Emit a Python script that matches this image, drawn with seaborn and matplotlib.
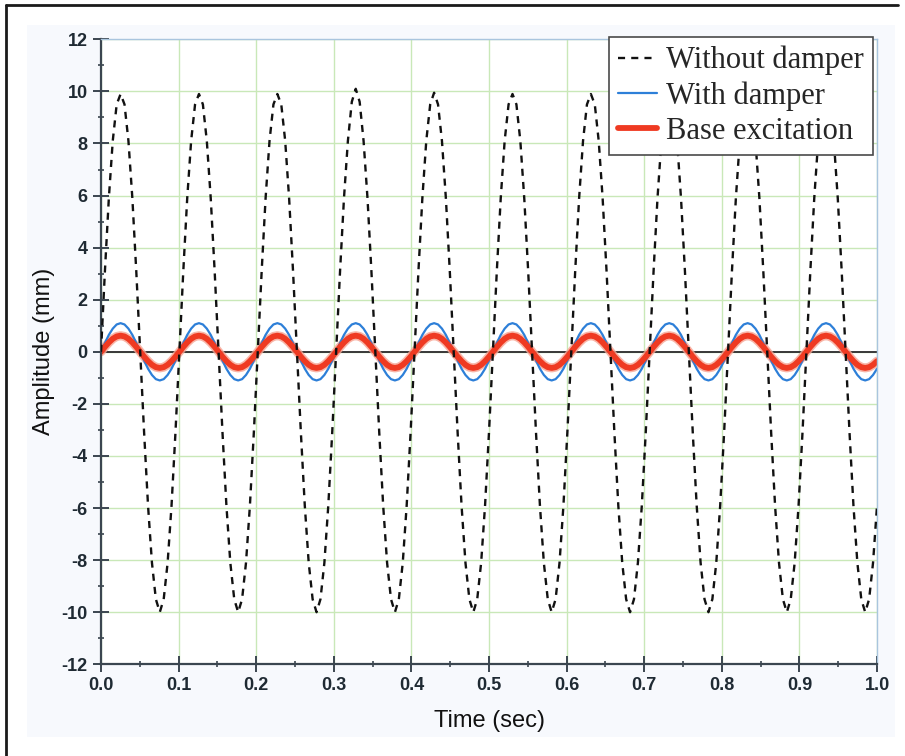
import matplotlib
matplotlib.use("Agg")
import matplotlib.pyplot as plt
from matplotlib.lines import Line2D
from matplotlib.patches import Rectangle
from matplotlib.ticker import MultipleLocator, FormatStrFormatter
import seaborn as sns

# time samples (sec)
time = [
    0.0, 0.00505, 0.0101, 0.01515, 0.0202, 0.02525, 0.0303, 0.03535, 0.0404, 0.04545,
    0.0505, 0.05555, 0.0606, 0.06565, 0.0707, 0.07575, 0.0808, 0.08585, 0.0909, 0.09595,
    0.101, 0.10605, 0.1111, 0.11615, 0.1212, 0.12625, 0.1313, 0.13635, 0.1414, 0.14645,
    0.1515, 0.15655, 0.1616, 0.16665, 0.1717, 0.17675, 0.1818, 0.18685, 0.1919, 0.19695,
    0.202, 0.20705, 0.2121, 0.21715, 0.2222, 0.22725, 0.2323, 0.23735, 0.2424, 0.24745,
    0.2525, 0.25755, 0.2626, 0.26765, 0.2727, 0.27775, 0.2828, 0.28785, 0.2929, 0.29795,
    0.303, 0.30805, 0.3131, 0.31815, 0.3232, 0.32825, 0.3333, 0.33835, 0.3434, 0.34845,
    0.3535, 0.35855, 0.3636, 0.36865, 0.3737, 0.37875, 0.3838, 0.38885, 0.3939, 0.39895,
    0.404, 0.40905, 0.4141, 0.41915, 0.4242, 0.42925, 0.4343, 0.43935, 0.4444, 0.44945,
    0.4545, 0.45955, 0.4646, 0.46965, 0.4747, 0.47975, 0.4848, 0.48985, 0.4949, 0.49995,
    0.505, 0.51005, 0.5151, 0.52015, 0.5252, 0.53025, 0.5353, 0.54035, 0.5454, 0.55045,
    0.5555, 0.56055, 0.5656, 0.57065, 0.5757, 0.58075, 0.5858, 0.59085, 0.5959, 0.60095,
    0.606, 0.61105, 0.6161, 0.62115, 0.6262, 0.63125, 0.6363, 0.64135, 0.6464, 0.65145,
    0.6565, 0.66155, 0.6666, 0.67165, 0.6767, 0.68175, 0.6868, 0.69185, 0.6969, 0.70195,
    0.707, 0.71205, 0.7171, 0.72215, 0.7272, 0.73225, 0.7373, 0.74235, 0.7474, 0.75245,
    0.7575, 0.76255, 0.7676, 0.77265, 0.7777, 0.78275, 0.7878, 0.79285, 0.7979, 0.80295,
    0.808, 0.81305, 0.8181, 0.82315, 0.8282, 0.83325, 0.8383, 0.84335, 0.8484, 0.85345,
    0.8585, 0.86355, 0.8686, 0.87365, 0.8787, 0.88375, 0.8888, 0.89385, 0.8989, 0.90395,
    0.909, 0.91405, 0.9191, 0.92415, 0.9292, 0.93425, 0.9393, 0.94435, 0.9494, 0.95445,
    0.9595, 0.96455, 0.9696, 0.97465, 0.9797, 0.98475, 0.9898, 0.99485, 1.0,
]

# Without damper (mm)
without_damper = [
    0.0, 3.1, 5.9, 8.1, 9.5, 9.9, 9.5, 8.1, 5.9, 3.1, 0.0, -3.1, -5.9, -8.1, -9.5, -10.0, -9.5, -8.1, -5.9, -3.1,
    0.0, 3.1, 5.9, 8.1, 9.5, 9.9, 9.5, 8.1, 5.9, 3.1, 0.0, -3.1, -5.9, -8.1, -9.5, -10.0, -9.5, -8.1, -5.9, -3.1,
    0.0, 3.1, 5.9, 8.1, 9.5, 9.9, 9.5, 8.1, 5.9, 3.1, 0.0, -3.1, -5.9, -8.1, -9.5, -10.0, -9.5, -8.1, -5.9, -3.1,
    0.0, 3.1, 5.9, 8.1, 9.6, 10.1, 9.6, 8.1, 5.9, 3.1, 0.0, -3.1, -5.9, -8.1, -9.5, -10.0, -9.5, -8.1, -5.9, -3.1,
    0.0, 3.1, 5.9, 8.1, 9.5, 9.95, 9.5, 8.1, 5.9, 3.1, 0.0, -3.1, -5.9, -8.1, -9.5, -10.0, -9.5, -8.1, -5.9, -3.1,
    0.0, 3.1, 5.9, 8.1, 9.5, 9.9, 9.5, 8.1, 5.9, 3.1, 0.0, -3.1, -5.9, -8.1, -9.5, -10.0, -9.5, -8.1, -5.9, -3.1,
    0.0, 3.1, 5.9, 8.1, 9.5, 9.9, 9.5, 8.1, 5.9, 3.1, 0.0, -3.1, -5.9, -8.1, -9.5, -10.0, -9.5, -8.1, -5.9, -3.1,
    0.0, 3.1, 5.9, 8.1, 9.5, 9.9, 9.5, 8.1, 5.9, 3.1, 0.0, -3.1, -5.9, -8.1, -9.5, -10.0, -9.5, -8.1, -5.9, -3.1,
    0.0, 3.1, 5.9, 8.1, 9.5, 9.9, 9.5, 8.1, 5.9, 3.1, 0.0, -3.1, -5.9, -8.1, -9.5, -10.0, -9.5, -8.1, -5.9, -3.1,
    0.0, 3.1, 5.9, 8.1, 9.5, 9.9, 9.5, 8.1, 5.9, 3.1, 0.0, -3.1, -5.9, -8.1, -9.5, -10.0, -9.5, -8.1, -5.9,
]

# With damper (mm)
with_damper = [
    0.0, 0.34, 0.65, 0.89, 1.05, 1.1, 1.05, 0.89, 0.65, 0.34, 0.0, -0.34, -0.65, -0.89, -1.05, -1.1, -1.05, -0.89, -0.65, -0.34,
    0.0, 0.34, 0.65, 0.89, 1.05, 1.1, 1.05, 0.89, 0.65, 0.34, 0.0, -0.34, -0.65, -0.89, -1.05, -1.1, -1.05, -0.89, -0.65, -0.34,
    0.0, 0.34, 0.65, 0.89, 1.05, 1.1, 1.05, 0.89, 0.65, 0.34, 0.0, -0.34, -0.65, -0.89, -1.05, -1.1, -1.05, -0.89, -0.65, -0.34,
    0.0, 0.34, 0.65, 0.89, 1.05, 1.1, 1.05, 0.89, 0.65, 0.34, 0.0, -0.34, -0.65, -0.89, -1.05, -1.1, -1.05, -0.89, -0.65, -0.34,
    0.0, 0.34, 0.65, 0.89, 1.05, 1.1, 1.05, 0.89, 0.65, 0.34, 0.0, -0.34, -0.65, -0.89, -1.05, -1.1, -1.05, -0.89, -0.65, -0.34,
    0.0, 0.34, 0.65, 0.89, 1.05, 1.1, 1.05, 0.89, 0.65, 0.34, 0.0, -0.34, -0.65, -0.89, -1.05, -1.1, -1.05, -0.89, -0.65, -0.34,
    0.0, 0.34, 0.65, 0.89, 1.05, 1.1, 1.05, 0.89, 0.65, 0.34, 0.0, -0.34, -0.65, -0.89, -1.05, -1.1, -1.05, -0.89, -0.65, -0.34,
    0.0, 0.34, 0.65, 0.89, 1.05, 1.1, 1.05, 0.89, 0.65, 0.34, 0.0, -0.34, -0.65, -0.89, -1.05, -1.1, -1.05, -0.89, -0.65, -0.34,
    0.0, 0.34, 0.65, 0.89, 1.05, 1.1, 1.05, 0.89, 0.65, 0.34, 0.0, -0.34, -0.65, -0.89, -1.05, -1.1, -1.05, -0.89, -0.65, -0.34,
    0.0, 0.34, 0.65, 0.89, 1.05, 1.1, 1.05, 0.89, 0.65, 0.34, 0.0, -0.34, -0.65, -0.89, -1.05, -1.1, -1.05, -0.89, -0.65,
]

# Base excitation (mm)
base_excitation = [
    0.0, 0.19, 0.36, 0.5, 0.59, 0.62, 0.59, 0.5, 0.36, 0.19, 0.0, -0.19, -0.36, -0.5, -0.59, -0.62, -0.59, -0.5, -0.36, -0.19,
    0.0, 0.19, 0.36, 0.5, 0.59, 0.62, 0.59, 0.5, 0.36, 0.19, 0.0, -0.19, -0.36, -0.5, -0.59, -0.62, -0.59, -0.5, -0.36, -0.19,
    0.0, 0.19, 0.36, 0.5, 0.59, 0.62, 0.59, 0.5, 0.36, 0.19, 0.0, -0.19, -0.36, -0.5, -0.59, -0.62, -0.59, -0.5, -0.36, -0.19,
    0.0, 0.19, 0.36, 0.5, 0.59, 0.62, 0.59, 0.5, 0.36, 0.19, 0.0, -0.19, -0.36, -0.5, -0.59, -0.62, -0.59, -0.5, -0.36, -0.19,
    0.0, 0.19, 0.36, 0.5, 0.59, 0.62, 0.59, 0.5, 0.36, 0.19, 0.0, -0.19, -0.36, -0.5, -0.59, -0.62, -0.59, -0.5, -0.36, -0.19,
    0.0, 0.19, 0.36, 0.5, 0.59, 0.62, 0.59, 0.5, 0.36, 0.19, 0.0, -0.19, -0.36, -0.5, -0.59, -0.62, -0.59, -0.5, -0.36, -0.19,
    0.0, 0.19, 0.36, 0.5, 0.59, 0.62, 0.59, 0.5, 0.36, 0.19, 0.0, -0.19, -0.36, -0.5, -0.59, -0.62, -0.59, -0.5, -0.36, -0.19,
    0.0, 0.19, 0.36, 0.5, 0.59, 0.62, 0.59, 0.5, 0.36, 0.19, 0.0, -0.19, -0.36, -0.5, -0.59, -0.62, -0.59, -0.5, -0.36, -0.19,
    0.0, 0.19, 0.36, 0.5, 0.59, 0.62, 0.59, 0.5, 0.36, 0.19, 0.0, -0.19, -0.36, -0.5, -0.59, -0.62, -0.59, -0.5, -0.36, -0.19,
    0.0, 0.19, 0.36, 0.5, 0.59, 0.62, 0.59, 0.5, 0.36, 0.19, 0.0, -0.19, -0.36, -0.5, -0.59, -0.62, -0.59, -0.5, -0.36,
]

labels = ["Without damper", "With damper", "Base excitation"]

sns.set_theme(style="white")
plt.rcParams["font.family"] = ["Liberation Sans", "DejaVu Sans"]

fig = plt.figure(figsize=(9.05, 7.56), dpi=100)
fig.patch.set_facecolor("white")

# light panel behind the plot + partial black frame
fig.patches.append(Rectangle((0.0298, 0.0251), 0.959, 0.9418, transform=fig.transFigure,
                             facecolor="#f7f9fd", edgecolor="none", zorder=-10))
fig.add_artist(Line2D([6 / 905, 6 / 905], [0, 1 - 5 / 756], transform=fig.transFigure,
                      color="#1a1a1a", lw=2))
fig.add_artist(Line2D([6 / 905, 898 / 905], [1 - 5 / 756, 1 - 5 / 756], transform=fig.transFigure,
                      color="#1a1a1a", lw=2))

ax = fig.add_axes([0.1116, 0.1213, 0.8575, 0.8267])
ax.set_facecolor("white")

ax.axhline(0, color="#383838", lw=1.4, zorder=1.5)

# base excitation: soft halo + thick core
sns.lineplot(x=time, y=base_excitation, ax=ax, color="#f7a493", lw=6.5, sort=False,
             estimator=None, zorder=2, alpha=0.8)
sns.lineplot(x=time, y=base_excitation, ax=ax, color="#ef3a22", lw=4.2, sort=False,
             estimator=None, zorder=2.2, solid_joinstyle="round")
sns.lineplot(x=time, y=with_damper, ax=ax, color="#2d7fd8", lw=1.6, sort=False,
             estimator=None, zorder=2.1)
sns.lineplot(x=time, y=without_damper, ax=ax, color="#111111", lw=1.7, sort=False,
             estimator=None, zorder=3, linestyle=(0, (3, 2.6)))

ax.set_xlim(0, 1.0)
ax.set_ylim(-12, 12)
ax.xaxis.set_major_locator(MultipleLocator(0.1))
ax.xaxis.set_minor_locator(MultipleLocator(0.05))
ax.yaxis.set_major_locator(MultipleLocator(2))
ax.yaxis.set_minor_locator(MultipleLocator(1))
ax.xaxis.set_major_formatter(FormatStrFormatter("%.1f"))
ax.yaxis.set_major_formatter(FormatStrFormatter("%d"))

ax.grid(True, which="major", color="#c9e8b8", lw=1.0)
ax.set_axisbelow(True)

for side in ["left", "bottom"]:
    ax.spines[side].set_color("#3b4650")
    ax.spines[side].set_linewidth(1.6)
for side in ["top", "right"]:
    ax.spines[side].set_color("#a9c5de")
    ax.spines[side].set_linewidth(1.0)

ax.tick_params(which="both", bottom=True, left=True, top=False, right=False,
               direction="inout", color="#3b4650")
ax.tick_params(which="major", length=11, width=1.4, pad=4, labelsize=13,
               labelcolor="#1f2a33")
ax.tick_params(which="minor", length=5, width=1.2)
for lab in ax.get_xticklabels() + ax.get_yticklabels():
    lab.set_fontweight("bold")

ax.set_xlabel("Time (sec)", fontsize=17, labelpad=11, color="#111111")
ax.set_ylabel("Amplitude (mm)", fontsize=17, labelpad=5, color="#111111")

handles = [
    Line2D([], [], color="#111111", lw=1.7, linestyle=(0, (3, 2.6))),
    Line2D([], [], color="#2d7fd8", lw=1.6),
    Line2D([], [], color="#ef3a22", lw=4.2),
]
leg = ax.legend(handles, labels, loc="upper right", bbox_to_anchor=(0.9643, 0.9515),
                bbox_transform=fig.transFigure, borderaxespad=0, frameon=True, fancybox=False,
                prop={"family": ["Liberation Serif", "DejaVu Serif"], "size": 22},
                handlelength=1.25, handletextpad=0.3, labelspacing=0.2, borderpad=0.3)
leg.get_frame().set_edgecolor("#4a4a4a")
leg.get_frame().set_linewidth(1.2)
leg.get_frame().set_facecolor("white")
leg.get_frame().set_alpha(1)
leg.set_zorder(5)

fig.savefig("out.png", dpi=100)
